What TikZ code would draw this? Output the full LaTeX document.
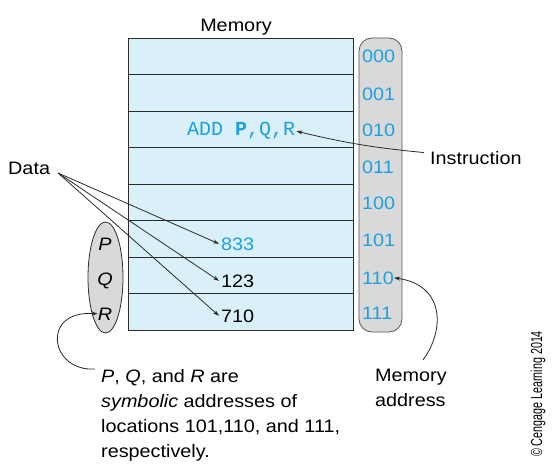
\documentclass[tikz,border=0pt]{standalone}
\usepackage{fontspec}
\setmainfont{Liberation Sans}[FakeStretch=1.1]
\setmonofont{Liberation Mono}
\newfontfamily\narrowfont{Liberation Sans}[FakeStretch=0.67]
\usetikzlibrary{shapes.geometric,arrows.meta}
\definecolor{cellfill}{HTML}{DAF0F8}
\definecolor{pillfill}{HTML}{D9D9D9}
\definecolor{addrcyan}{HTML}{1BA1E2}
\definecolor{edge}{HTML}{2A2A2A}
\tikzset{
  lbl/.style={inner sep=0pt, font=\fontsize{18}{25}\selectfont, text=black},
  cell/.style={draw=edge, line width=0.8pt, fill=cellfill, minimum width=225pt, minimum height=36.5pt, inner sep=0pt},
  addr/.style={inner sep=0pt, anchor=base west, font=\fontsize{18}{22}\selectfont, text=addrcyan},
  val/.style={inner sep=2pt, anchor=base west, font=\fontsize{18}{22}\selectfont},
  arr/.style={draw=edge, line width=0.8pt, -{Stealth[length=6pt,width=4pt]}},
}
\begin{document}
\begin{tikzpicture}[x=1pt,y=-1pt]
\useasboundingbox (0,0) rectangle (554,465);
% memory cells
\foreach \i in {0,...,7}{
  \node[cell] (m\i) at (240.5, {56.25+36.5*\i}) {};
}
% address pill
\node[draw=edge!80, line width=0.8pt, fill=pillfill, rounded corners=13pt, minimum width=43pt, minimum height=294pt, inner sep=0pt] (pill) at (380.5,185) {};
\node[addr] (a0) at (362,63) {000};
\node[addr] (a1) at (362,101) {001};
\node[addr] (a2) at (362,137) {010};
\node[addr] (a3) at (362,174) {011};
\node[addr] (a4) at (362,210) {100};
\node[addr] (a5) at (362,247) {101};
\node[addr] (a6) at (362,284) {110};
\node[addr] (a7) at (362,319) {111};
% title
\node[lbl, anchor=base] (title) at (236,31.5) {Memory};
% instruction
\node[inner sep=1pt, anchor=base west, text=addrcyan, font=\ttfamily\fontsize{20}{22}\selectfont] (instr) at (186,136) {ADD \textbf{P},Q,R};
\node[lbl, anchor=base west] (instlbl) at (430,165) {Instruction};
\draw[arr] (instlbl.west) ++(-6,-6) coordinate (ist) (ist) to[bend left=4] (instr.east);
% data values
\node[val, text=addrcyan] (v833) at (219,250) {833};
\node[val] (v123) at (219,287) {123};
\node[val] (v710) at (219,322) {710};
\node[lbl, anchor=base west] (data) at (8,175) {Data};
\coordinate (ds) at (58,173);
\draw[arr] (ds) -- (v833.west);
\draw[arr] (ds) -- (v123.west);
\draw[arr] (ds) -- (v710.west);
% symbolic ellipse
\node[ellipse, draw=edge, line width=0.8pt, fill=pillfill, minimum width=35pt, minimum height=111pt, inner sep=0pt] (ell) at (105.5,277.5) {};
\node[lbl, anchor=base, font=\itshape\fontsize{18}{22}\selectfont] (sP) at (105,251) {P};
\node[lbl, anchor=base, font=\itshape\fontsize{18}{22}\selectfont] (sQ) at (105,285) {Q};
\node[lbl, anchor=base, font=\itshape\fontsize{18}{22}\selectfont] (sR) at (105,320) {R};
% bottom note (base anchor = last line baseline)
\node[lbl, anchor=base west, align=left] (note) at (101,457) {\textit{P}, \textit{Q}, and \textit{R} are\\ \textit{symbolic} addresses of\\ locations 101,110, and 111,\\ respectively.};
\coordinate (ns) at (95,369);
\draw[arr] (ns) .. controls (50,372) and (40,310) .. (sR.west);
% memory address
\node[lbl, anchor=base west, align=left] (madr) at (375,406) {Memory\\ address};
\coordinate (ms) at (423,360);
\draw[arr] (ms) .. controls (445,330) and (445,285) .. (a6.east);
% copyright
\node[inner sep=0pt, rotate=90, anchor=base, font=\narrowfont\fontsize{16}{18}\selectfont] (copy) at (542,394) {\textcopyright{} Cengage Learning 2014};
\end{tikzpicture}
\end{document}
